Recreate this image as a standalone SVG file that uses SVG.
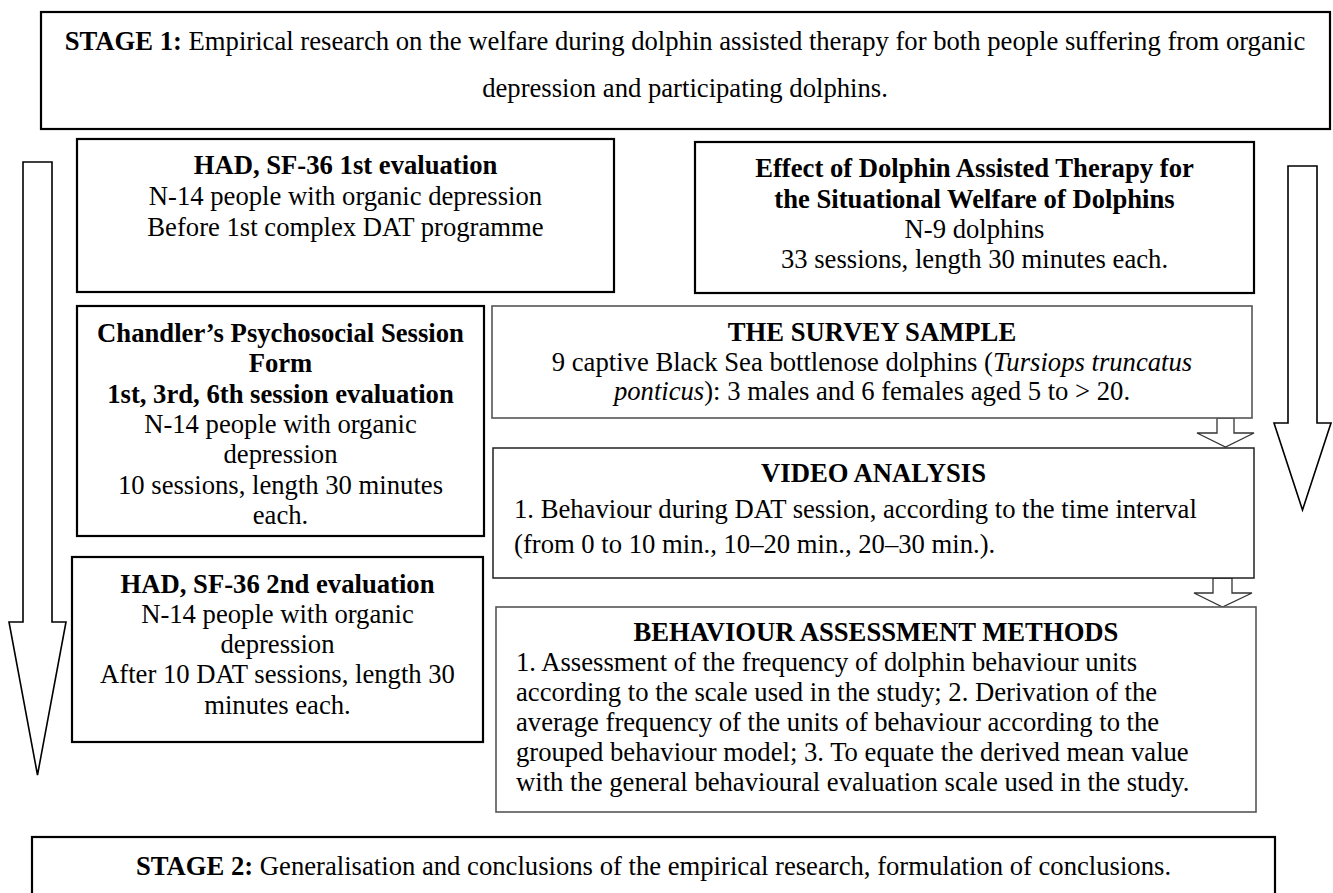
<svg xmlns="http://www.w3.org/2000/svg" width="1333" height="893" viewBox="0 0 1333 893">
<style>
text{font-family:"Liberation Serif","Times New Roman",serif;font-size:26.67px;fill:#000}
.c{text-anchor:middle}
.b{font-weight:bold}
.i{font-style:italic}
.box{fill:#fff;stroke:#000;stroke-width:2.2}
.box2{fill:#fff;stroke:#555;stroke-width:1.6}
.box3{fill:#fff;stroke:#222;stroke-width:1.5}
.arr{fill:#fff;stroke:#000;stroke-width:1.6;stroke-linejoin:miter}
.sarr{fill:#fff;stroke:#333;stroke-width:1.3;stroke-linejoin:miter}
</style>
<rect x="0" y="0" width="1333" height="893" fill="#fff"/>
<g id="connectors">
<polygon class="arr" points="23,162 52,162 52,622 66,622 37.5,775 9,622 23,622"/>
<polygon class="arr" points="1288,166 1317,166 1317,423 1331,423 1302.5,510 1274,423 1288,423"/>
<polygon class="sarr" points="1217,418 1234,418 1234,433 1254,433 1225.5,447 1197,433 1217,433"/>
<polygon class="sarr" points="1213,578 1232,578 1232,593 1252,593 1222.5,607 1194,593 1213,593"/>
</g>
<g id="stage1">
<rect class="box" x="41" y="12" width="1289" height="117"/>
<text class="c" x="685" y="50"><tspan class="b">STAGE 1:</tspan> Empirical research on the welfare during dolphin assisted therapy for both people suffering from organic</text>
<text class="c" x="685" y="97">depression and participating dolphins.</text>
</g>
<g id="had1">
<rect class="box" x="77" y="139" width="537" height="153"/>
<text class="c b" x="345.5" y="174">HAD, SF-36 1st evaluation</text>
<text class="c" x="345.5" y="205">N-14 people with organic depression</text>
<text class="c" x="345.5" y="236">Before 1st complex DAT programme</text>
</g>
<g id="effect">
<rect class="box" x="695" y="142" width="559" height="151"/>
<text class="c b" x="974.5" y="177">Effect of Dolphin Assisted Therapy for</text>
<text class="c b" x="974.5" y="208">the Situational Welfare of Dolphins</text>
<text class="c" x="974.5" y="238">N-9 dolphins</text>
<text class="c" x="974.5" y="268">33 sessions, length 30 minutes each.</text>
</g>
<g id="chandler">
<rect class="box" x="77" y="306" width="407" height="230"/>
<text class="c b" x="280.5" y="342">Chandler’s Psychosocial Session</text>
<text class="c b" x="280.5" y="372">Form</text>
<text class="c b" x="280.5" y="403">1st, 3rd, 6th session evaluation</text>
<text class="c" x="280.5" y="433">N-14 people with organic</text>
<text class="c" x="280.5" y="463">depression</text>
<text class="c" x="280.5" y="494">10 sessions, length 30 minutes</text>
<text class="c" x="280.5" y="524">each.</text>
</g>
<g id="had2">
<rect class="box" x="72" y="557" width="411" height="185"/>
<text class="c b" x="277.5" y="593">HAD, SF-36 2nd evaluation</text>
<text class="c" x="277.5" y="623">N-14 people with organic</text>
<text class="c" x="277.5" y="653">depression</text>
<text class="c" x="277.5" y="683">After 10 DAT sessions, length 30</text>
<text class="c" x="277.5" y="714">minutes each.</text>
</g>
<g id="survey">
<rect class="box2" x="492" y="306" width="760" height="112"/>
<text class="c b" x="872" y="341">THE SURVEY SAMPLE</text>
<text class="c" x="872" y="371">9 captive Black Sea bottlenose dolphins (<tspan class="i">Tursiops truncatus</tspan></text>
<text class="c" x="872" y="400"><tspan class="i">ponticus</tspan>): 3 males and 6 females aged 5 to &gt; 20.</text>
</g>
<g id="video">
<rect class="box3" x="493" y="448" width="761" height="130"/>
<text class="c b" x="873.5" y="482">VIDEO ANALYSIS</text>
<text x="514" y="518">1. Behaviour during DAT session, according to the time interval</text>
<text x="514" y="553">(from 0 to 10 min., 10–20 min., 20–30 min.).</text>
</g>
<g id="behaviour">
<rect class="box2" x="496" y="607" width="760" height="205"/>
<text class="c b" x="876" y="641">BEHAVIOUR ASSESSMENT METHODS</text>
<text x="516" y="671">1. Assessment of the frequency of dolphin behaviour units</text>
<text x="516" y="701">according to the scale used in the study; 2. Derivation of the</text>
<text x="516" y="731">average frequency of the units of behaviour according to the</text>
<text x="516" y="761">grouped behaviour model; 3. To equate the derived mean value</text>
<text x="516" y="791">with the general behavioural evaluation scale used in the study.</text>
</g>
<g id="stage2">
<rect class="box" x="32" y="837" width="1243" height="70"/>
<text class="c" x="653.5" y="875"><tspan class="b">STAGE 2:</tspan> Generalisation and conclusions of the empirical research, formulation of conclusions.</text>
</g>
</svg>
